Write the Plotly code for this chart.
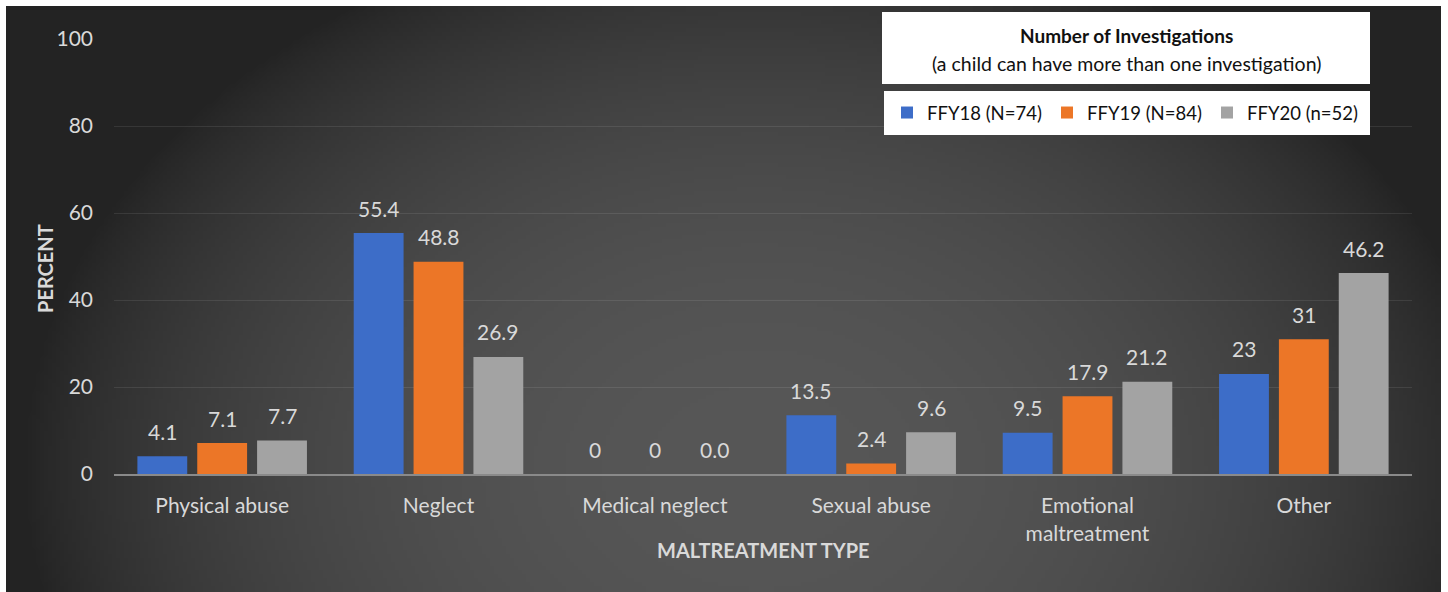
import base64, struct, zlib
import numpy as np
import plotly.graph_objects as go

# ---------------- data ----------------
categories = ["Physical abuse", "Neglect", "Medical neglect", "Sexual abuse",
              "Emotional<br>maltreatment", "Other"]
series_names = ["FFY18 (N=74)", "FFY19 (N=84)", "FFY20 (n=52)"]
ffy18 = [4.1, 55.4, 0, 13.5, 9.5, 23]
ffy19 = [7.1, 48.8, 0, 2.4, 17.9, 31]
ffy20 = [7.7, 26.9, 0.0, 9.6, 21.2, 46.2]
labels18 = ["4.1", "55.4", "0", "13.5", "9.5", "23"]
labels19 = ["7.1", "48.8", "0", "2.4", "17.9", "31"]
labels20 = ["7.7", "26.9", "0.0", "9.6", "21.2", "46.2"]
y_ticks = [0, 20, 40, 60, 80, 100]

# ---------------- style ----------------
W, H = 1448, 592
ML, MR, MT, MB = 114, 36, 39, 118
PW, PH = W - ML - MR, H - MT - MB
colors = ["#3d6dc8", "#ec7627", "#a3a3a3"]
FONT = "Lato"
TXT = "#d9d9d9"
BARGAP, GROUPGAP = 0.17, 0.167


def px_x(px):
    return (px - ML) / PW


def px_y(py):
    return (H - MB - py) / PH


# radial gradient background image (styling only)
def gradient_png(w, h, x0, y0, x1, y1):
    xs = np.linspace(x0, x1, w)
    ys = np.linspace(y0, y1, h)
    X, Y = np.meshgrid(xs, ys)
    d2 = ((X - 760) / 740) ** 2 + ((Y - 470) / 560) ** 2
    v = 0x23 + (0x57 - 0x23) * np.clip(1 - d2, 0, 1) ** 0.8
    v = v.astype(np.uint8)
    rgb = np.stack([v, v, v], axis=-1)
    raw = b"".join(b"\x00" + rgb[r].tobytes() for r in range(h))

    def chunk(tag, data):
        c = struct.pack(">I", len(data)) + tag + data
        return c + struct.pack(">I", zlib.crc32(tag + data) & 0xffffffff)

    png = b"\x89PNG\r\n\x1a\n" + chunk(b"IHDR", struct.pack(">IIBBBBB", w, h, 8, 2, 0, 0, 0)) \
        + chunk(b"IDAT", zlib.compress(raw, 9)) + chunk(b"IEND", b"")
    return "data:image/png;base64," + base64.b64encode(png).decode()


BX0, BY0, BX1, BY1 = 6, 6, 1441, 592
bg_src = gradient_png(360, 147, BX0, BY0, BX1, BY1)

fig = go.Figure()
for name, vals, col in zip(series_names, [ffy18, ffy19, ffy20], colors):
    fig.add_trace(go.Bar(name=name, x=categories, y=vals, marker=dict(color=col, line=dict(width=0)),
                         hoverinfo="x+y"))

# value labels
slot = PW / len(categories) * (1 - BARGAP) / len(series_names)
annotations = []
for i, (vals, labs) in enumerate(zip([ffy18, ffy19, ffy20], [labels18, labels19, labels20])):
    for c, v, t in zip(categories, vals, labs):
        annotations.append(dict(x=c, y=v, xref="x", yref="y", text=t, showarrow=False,
                                xshift=(i - 1) * slot, yshift=25, xanchor="center", yanchor="middle",
                                font=dict(family=FONT, size=21, color=TXT)))

# axis titles
annotations.append(dict(x=0.5, y=px_y(550), xref="paper", yref="paper", showarrow=False,
                        xanchor="center", yanchor="middle",
                        text="<b>MALTREATMENT TYPE</b>", font=dict(family=FONT, size=20, color=TXT)))
annotations.append(dict(x=px_x(45), y=px_y(269), xref="paper", yref="paper", showarrow=False, textangle=-90,
                        xanchor="center", yanchor="middle",
                        text="<b>PERCENT</b>", font=dict(family=FONT, size=20, color=TXT)))
# legend title box texts
annotations.append(dict(x=px_x(1126), y=px_y(35), xref="paper", yref="paper", showarrow=False,
                        xanchor="center", yanchor="middle",
                        text="<b>Number of Investigations</b>", font=dict(family=FONT, size=19, color="#111111")))
annotations.append(dict(x=px_x(1126), y=px_y(63), xref="paper", yref="paper", showarrow=False,
                        xanchor="center", yanchor="middle",
                        text="(a child can have more than one investigation)",
                        font=dict(family=FONT, size=19.5, color="#111111")))

shapes = [dict(type="rect", xref="paper", yref="paper", x0=px_x(882), x1=px_x(1370),
               y0=px_y(84), y1=px_y(12), fillcolor="white", line=dict(width=0), layer="above")]

fig.update_layout(
    width=W, height=H, margin=dict(l=ML, r=MR, t=MT, b=MB),
    paper_bgcolor="white", plot_bgcolor="rgba(0,0,0,0)",
    barmode="group", bargap=BARGAP, bargroupgap=GROUPGAP,
    font=dict(family=FONT, color=TXT),
    images=[dict(source=bg_src, xref="paper", yref="paper", x=px_x(BX0), y=px_y(BY0),
                 sizex=px_x(BX1) - px_x(BX0), sizey=px_y(BY0) - px_y(BY1),
                 xanchor="left", yanchor="top", sizing="stretch", layer="below")],
    xaxis=dict(showgrid=False, showline=True, linecolor="#8a8a8a", linewidth=2,
               tickfont=dict(family=FONT, size=21, color=TXT), ticks="", ticklabelstandoff=12),
    yaxis=dict(range=[0, 100], tickvals=y_ticks, showgrid=True, gridcolor="rgba(255,255,255,0.09)",
               gridwidth=1, zeroline=False, showline=False, ticks="",
               tickfont=dict(family=FONT, size=21, color=TXT), ticklabelstandoff=20),
    legend=dict(orientation="h", x=px_x(1370), xanchor="right", y=px_y(91), yanchor="top",
                bgcolor="white", bordercolor="white", borderwidth=3,
                font=dict(family=FONT, size=18.5, color="#111111"), itemwidth=30,
                entrywidth=115, entrywidthmode="pixels", traceorder="normal"),
    annotations=annotations, shapes=shapes,
)

fig.write_html("out.html", config={"displayModeBar": False},
               post_script="document.body.style.margin='0';")
